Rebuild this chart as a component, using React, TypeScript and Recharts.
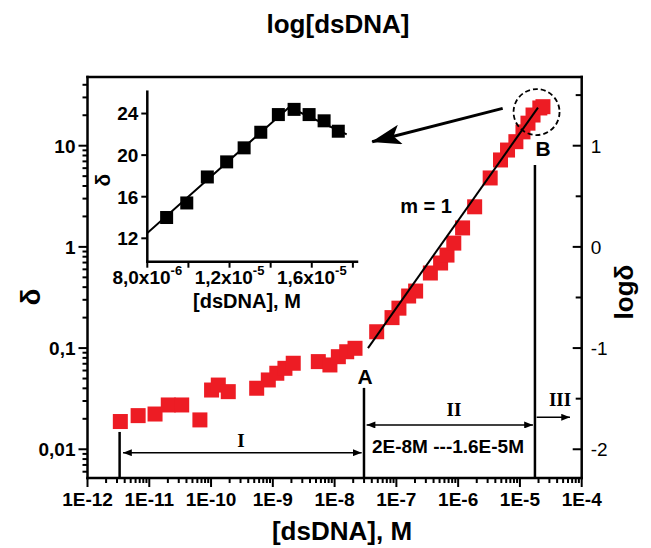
import React from "react";
import {
  ScatterChart,
  Scatter,
  XAxis,
  YAxis,
  ReferenceLine,
  ReferenceDot,
} from "recharts";

const SANS = "'Liberation Sans', Arial, Helvetica, sans-serif";
const SERIF = "'Liberation Serif', 'Times New Roman', serif";
const RED = "#ED1C24";

// main plot, region I : [dsDNA] (M) vs delta
const concRegion1 = [3.4e-12, 6.6e-12, 1.24e-11, 2.03e-11, 3.35e-11, 6.6e-11, 1.02e-10, 1.31e-10, 1.9e-10, 5.48e-10, 8.45e-10, 1.16e-9, 1.57e-9, 2.14e-9, 5.45e-9, 8.4e-9, 1.15e-8, 1.57e-8, 2.14e-8];
const deltaRegion1 = [0.0188, 0.0215, 0.0223, 0.0274, 0.0274, 0.0195, 0.0385, 0.0431, 0.0371, 0.0401, 0.0484, 0.0564, 0.0631, 0.0708, 0.0735, 0.0681, 0.0822, 0.092, 0.0995];

// main plot, region II / top
const concRegion2 = [4.8e-8, 8.5e-8, 1.1e-7, 1.58e-7, 2.05e-7, 3.55e-7, 5.2e-7, 6.6e-7, 8.5e-7, 1.18e-6, 1.85e-6, 3.3e-6, 4.85e-6, 6.3e-6, 8.6e-6, 1.12e-5, 1.35e-5, 1.63e-5, 2.1e-5, 2.36e-5];
const deltaRegion2 = [0.145, 0.2, 0.248, 0.327, 0.366, 0.552, 0.693, 0.83, 1.09, 1.54, 2.49, 4.8, 7.23, 9.06, 10.96, 13.7, 16.7, 20.1, 23.6, 24.3];

// linear fit, slope m = 1
const fitConc = [3.47e-8, 1.96e-5];
const fitDelta = [0.1, 23.8];

// inset
const insetConc = [8.94e-6, 9.92e-6, 1.092e-5, 1.186e-5, 1.271e-5, 1.352e-5, 1.4375e-5, 1.514e-5, 1.587e-5, 1.66e-5, 1.729e-5];
const insetDelta = [14.0, 15.4, 17.9, 19.35, 20.7, 22.2, 23.9, 24.4, 23.9, 23.3, 22.3];
const insetLineConc = [8e-6, 1.49e-5, 1.77e-5];
const insetLineDelta = [12.5, 24.6, 22.0];

// ticks
const decades = [-12, -11, -10, -9, -8, -7, -6, -5, -4];
const minorSteps = [1, 2, 3, 4, 5, 6, 7, 8, 9];
const leftDecades = [-3, -2, -1, 0, 1];
const leftLabels: Record<string, string> = { "-2": "0,01", "-1": "0,1", "0": "1", "1": "10" };
const halfSteps = [-12, -11.5, -11, -10.5, -10, -9.5, -9, -8.5, -8, -7.5, -7, -6.5, -6, -5.5, -5, -4.5, -4];
const rightSteps = [-2, -1.5, -1, -0.5, 0, 0.5, 1, 1.5];
const insetXTicks = [8e-6, 1e-5, 1.2e-5, 1.4e-5, 1.6e-5, 1.8e-5];
const insetXMantissa = ["8,0x10", "", "1,2x10", "", "1,6x10", ""];
const insetXExponent = ["-6", "", "-5", "", "-5", ""];
const insetYTicks = [12, 16, 20, 24];

const X_DOMAIN = [1e-12, 1e-4];
const Y_DOMAIN = [0.0052, 47.75];

const mainData1 = concRegion1.map((x, i) => ({ x, y: deltaRegion1[i] }));
const mainData2 = concRegion2.map((x, i) => ({ x, y: deltaRegion2[i] }));
const fitData = fitConc.map((x, i) => ({ x, y: fitDelta[i] }));
const insetData = insetConc.map((x, i) => ({ x, y: insetDelta[i] }));
const insetLine = insetLineConc.map((x, i) => ({ x, y: insetLineDelta[i] }));

const bottomTicks = decades.flatMap((n) => (n === -4 ? [1e-4] : minorSteps.map((k) => k * 10 ** n)));
const leftTicks = leftDecades
  .flatMap((n) => minorSteps.map((k) => k * 10 ** n))
  .filter((v) => v >= Y_DOMAIN[0] && v <= Y_DOMAIN[1]);
const topTicks = halfSteps.map((v) => 10 ** v);
const rightTicks = rightSteps.map((v) => 10 ** v);

const lg = (v: number) => Math.log10(v);
const isWhole = (l: number) => Math.abs(l - Math.round(l)) < 1e-6;

const labelStyle = { fontFamily: SANS, fontWeight: "bold" as const, fill: "#000" };

const BottomTick = ({ x, y, payload }: any) => {
  const l = lg(payload.value);
  const major = isWhole(l);
  return (
    <g>
      <line x1={x} y1={y} x2={x} y2={y + (major ? 9 : 5)} stroke="#000" strokeWidth={2} />
      {major && (
        <text x={x} y={y + 28} textAnchor="middle" fontSize={19} {...labelStyle}>
          {`1E${Math.round(l)}`}
        </text>
      )}
    </g>
  );
};

const TopTick = ({ x, y, payload }: any) => {
  const l = lg(payload.value);
  const major = isWhole(l);
  return (
    <g>
      <line x1={x} y1={y} x2={x} y2={y + (major ? 8 : 5)} stroke="#000" strokeWidth={2} />
      {major && (
        <text x={x} y={y - 10} textAnchor="middle" fontSize={19} {...labelStyle}>
          {String(Math.round(l))}
        </text>
      )}
    </g>
  );
};

const LeftTick = ({ x, y, payload }: any) => {
  const l = lg(payload.value);
  const major = isWhole(l);
  return (
    <g>
      <line x1={x - (major ? 9 : 5)} y1={y} x2={x} y2={y} stroke="#000" strokeWidth={2} />
      {major && (
        <text x={x - 12} y={y} dy="0.36em" textAnchor="end" fontSize={19} {...labelStyle}>
          {leftLabels[String(Math.round(l))]}
        </text>
      )}
    </g>
  );
};

const RightTick = ({ x, y, payload }: any) => {
  const l = lg(payload.value);
  const major = isWhole(l);
  return (
    <g>
      <line x1={x - (major ? 9 : 6)} y1={y} x2={x} y2={y} stroke="#000" strokeWidth={2} />
      {major && (
        <text x={x + 9} y={y} dy="0.36em" textAnchor="start" fontSize={19} fontFamily={SANS} fill="#000">
          {String(Math.round(l))}
        </text>
      )}
    </g>
  );
};

const InsetXTick = ({ x, y, payload, index }: any) => {
  const i = insetXTicks.indexOf(payload.value);
  const k = i >= 0 ? i : index;
  return (
    <g>
      <line x1={x} y1={y} x2={x} y2={y + 6} stroke="#000" strokeWidth={2} />
      {insetXMantissa[k] && (
        <text x={x} y={y + 22} textAnchor="middle" fontSize={19} {...labelStyle}>
          <tspan>{insetXMantissa[k]}</tspan>
          <tspan dy={-9} fontSize={13}>{insetXExponent[k]}</tspan>
        </text>
      )}
    </g>
  );
};

const InsetYTick = ({ x, y, payload }: any) => (
  <g>
    <line x1={x - 6} y1={y} x2={x} y2={y} stroke="#000" strokeWidth={2} />
    <text x={x - 9} y={y} dy="0.36em" textAnchor="end" fontSize={19} {...labelStyle}>
      {String(payload.value)}
    </text>
  </g>
);

const RedSquare = ({ cx, cy }: any) => <rect x={cx - 7.5} y={cy - 7.5} width={15} height={15} fill={RED} />;
const BlackSquare = ({ cx, cy }: any) => <rect x={cx - 6.5} y={cy - 6.5} width={13} height={13} fill="#000" />;
const NoDot = () => <g />;

const axisLine = { stroke: "#000", strokeWidth: 2.5, strokeLinecap: "square" as const };
const ids = { xAxisId: "b", yAxisId: "l" };

const MainChart = () => (
  <ScatterChart width={651} height={548} margin={{ top: 0, right: 0, bottom: 0, left: 0 }}>
    <defs>
      <marker id="smallHead" viewBox="0 0 10 8" refX="10" refY="4" markerWidth="9" markerHeight="7" markerUnits="userSpaceOnUse" orient="auto-start-reverse">
        <path d="M0,0 L10,4 L0,8 Z" fill="#000" />
      </marker>
      <marker id="bigHead" viewBox="0 0 30 20" refX="29" refY="10" markerWidth="30" markerHeight="20" markerUnits="userSpaceOnUse" orient="auto">
        <path d="M0,0 L30,10 L0,20 L7,10 Z" fill="#000" />
      </marker>
    </defs>
    <XAxis xAxisId="b" type="number" dataKey="x" scale="log" domain={X_DOMAIN} allowDataOverflow ticks={bottomTicks} interval={0} orientation="bottom" height={70} tickSize={0} tickMargin={0} tickLine={false} tick={<BottomTick />} axisLine={axisLine} />
    <XAxis xAxisId="t" type="number" scale="log" domain={X_DOMAIN} allowDataOverflow ticks={topTicks} interval={0} orientation="top" height={77} tickSize={0} tickMargin={0} tickLine={false} tick={<TopTick />} axisLine={axisLine} />
    <YAxis yAxisId="l" type="number" dataKey="y" scale="log" domain={Y_DOMAIN} allowDataOverflow ticks={leftTicks} interval={0} orientation="left" width={87.5} tickSize={0} tickMargin={0} tickLine={false} tick={<LeftTick />} axisLine={axisLine} />
    <YAxis yAxisId="r" type="number" scale="log" domain={Y_DOMAIN} allowDataOverflow ticks={rightTicks} interval={0} orientation="right" width={69.3} tickSize={0} tickMargin={0} tickLine={false} tick={<RightTick />} axisLine={axisLine} />

    <Scatter {...ids} data={mainData1} shape={<RedSquare />} isAnimationActive={false} />
    <Scatter {...ids} data={mainData2} shape={<RedSquare />} isAnimationActive={false} />
    <Scatter {...ids} data={fitData} line={{ stroke: "#000", strokeWidth: 2 }} shape={<NoDot />} isAnimationActive={false} />

    {/* region boundaries */}
    <ReferenceLine {...ids} ifOverflow="visible" segment={[{ x: 3.31e-12, y: 0.01483 }, { x: 3.31e-12, y: Y_DOMAIN[0] }]} stroke="#000" strokeWidth={2.5} />
    <ReferenceLine {...ids} ifOverflow="visible" segment={[{ x: 2.99e-8, y: 0.0404 }, { x: 2.99e-8, y: Y_DOMAIN[0] }]} stroke="#000" strokeWidth={2.5} />
    <ReferenceLine {...ids} ifOverflow="visible" segment={[{ x: 1.75e-5, y: 6.44 }, { x: 1.75e-5, y: Y_DOMAIN[0] }]} stroke="#000" strokeWidth={2.5} />

    {/* region arrows */}
    <ReferenceLine {...ids} ifOverflow="visible" segment={[{ x: 3.76e-12, y: 0.00925 }, { x: 2.74e-8, y: 0.00925 }]} stroke="#000" strokeWidth={1.5} markerStart="url(#smallHead)" markerEnd="url(#smallHead)" />
    <ReferenceLine {...ids} ifOverflow="visible" segment={[{ x: 3.3e-8, y: 0.01738 }, { x: 1.626e-5, y: 0.01738 }]} stroke="#000" strokeWidth={1.5} markerStart="url(#smallHead)" markerEnd="url(#smallHead)" />
    <ReferenceLine {...ids} ifOverflow="visible" segment={[{ x: 1.866e-5, y: 0.0207 }, { x: 6.46e-5, y: 0.0207 }]} stroke="#000" strokeWidth={1.5} markerEnd="url(#smallHead)" />

    {/* pointer to inset */}
    <ReferenceLine {...ids} ifOverflow="visible" segment={[{ x: 5.26e-6, y: 23.4 }, { x: 4.06e-8, y: 10.96 }]} stroke="#000" strokeWidth={3} markerEnd="url(#bigHead)" />
    <ReferenceDot {...ids} x={1.858e-5} y={21.5} r={23} fill="none" stroke="#000" strokeWidth={1.8} strokeDasharray="5 3" />

    {/* annotations */}
    <text x={365} y={384} textAnchor="middle" fontSize={21} {...labelStyle}>A</text>
    <text x={543} y={156} textAnchor="middle" fontSize={21} {...labelStyle}>B</text>
    <text x={426} y={213} textAnchor="middle" fontSize={20} {...labelStyle}>m = 1</text>
    <text x={241} y={447} textAnchor="middle" fontSize={19} fontFamily={SERIF} fontWeight="bold">I</text>
    <text x={454} y={416} textAnchor="middle" fontSize={19} fontFamily={SERIF} fontWeight="bold">II</text>
    <text x={560} y={406} textAnchor="middle" fontSize={19} fontFamily={SERIF} fontWeight="bold">III</text>
    <text x={448} y={453} textAnchor="middle" fontSize={19} {...labelStyle}>2E-8M ---1.6E-5M</text>

    {/* axis titles */}
    <text x={338} y={33} textAnchor="middle" fontSize={26} {...labelStyle}>log[dsDNA]</text>
    <text x={342} y={540} textAnchor="middle" fontSize={26} {...labelStyle}>[dsDNA], M</text>
    <text x={40} y={297} textAnchor="middle" fontSize={28} {...labelStyle} transform="rotate(-90 40 297)">δ</text>
    <text x={633} y={292} textAnchor="middle" fontSize={26} {...labelStyle} transform="rotate(-90 633 292)">logδ</text>
  </ScatterChart>
);

const InsetChart = () => (
  <ScatterChart width={290} height={240} margin={{ top: 11.7, right: 23, bottom: 10, left: 0 }}>
    <XAxis type="number" dataKey="x" domain={[8e-6, 1.82e-5]} allowDataOverflow ticks={insetXTicks} interval={0} height={48.3} tickSize={0} tickMargin={0} tickLine={false} tick={<InsetXTick />} axisLine={axisLine} />
    <YAxis type="number" dataKey="y" domain={[9.75, 26.1]} allowDataOverflow ticks={insetYTicks} interval={0} width={57.3} tickSize={0} tickMargin={0} tickLine={false} tick={<InsetYTick />} axisLine={axisLine} />
    <Scatter data={insetLine} line={{ stroke: "#000", strokeWidth: 2 }} shape={<NoDot />} isAnimationActive={false} />
    <Scatter data={insetData} shape={<BlackSquare />} isAnimationActive={false} />
    <text x={12} y={100} textAnchor="middle" fontSize={21} {...labelStyle} transform="rotate(-90 12 100)" dy="0.36em">δ</text>
    <text x={157} y={228} textAnchor="middle" fontSize={20} {...labelStyle}>[dsDNA], M</text>
  </ScatterChart>
);

export default function App() {
  return (
    <div style={{ position: "absolute", left: 0, top: 0, width: 651, height: 548, background: "#fff" }}>
      <MainChart />
      <div style={{ position: "absolute", left: 90, top: 80, width: 290, height: 240 }}>
        <InsetChart />
      </div>
    </div>
  );
}
